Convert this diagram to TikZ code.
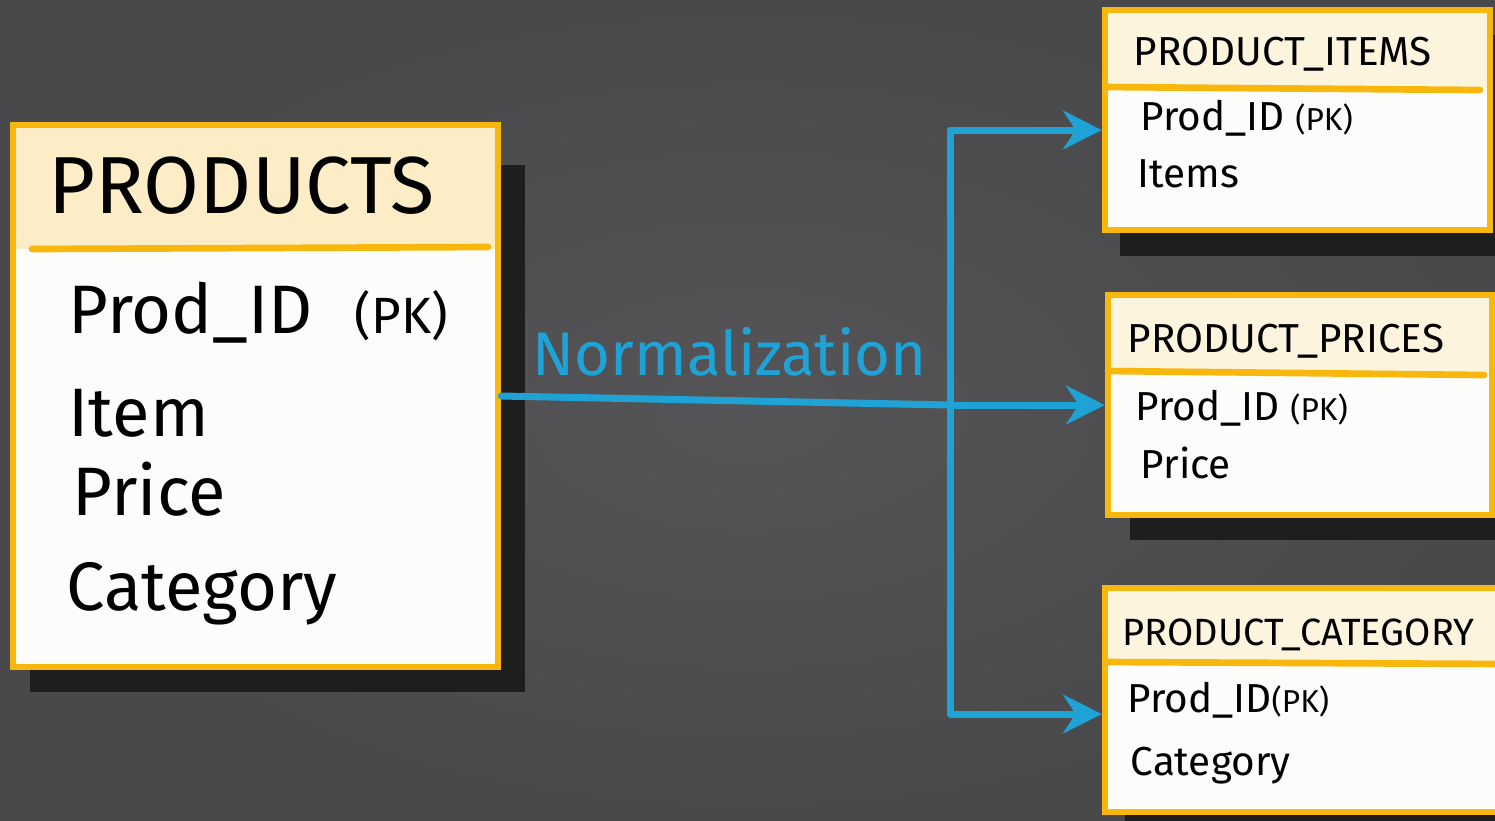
\documentclass[tikz,border=0pt]{standalone}
\usepackage{fontspec}
\setmainfont{Fira Sans}
\usetikzlibrary{arrows.meta}
\definecolor{boardmid}{HTML}{555557}
\definecolor{boardedge}{HTML}{49494C}
\definecolor{marker}{HTML}{F8B70C}
\definecolor{headfill}{HTML}{FCEDC6}
\definecolor{headpale}{HTML}{FDF4DE}
\definecolor{paper}{HTML}{FCFCFA}
\definecolor{chalkblue}{HTML}{1FA3D6}
\definecolor{shadow}{HTML}{1E1E1F}
\begin{document}
\begin{tikzpicture}[x=0.01cm,y=-0.01cm,
	tbl/.style={rectangle,fill=paper,draw=marker,line width=1.8pt,inner sep=0pt},
	bar/.style={marker,line width=1.9pt,line cap=round},
	flow/.style={chalkblue,line width=2pt,line cap=round,line join=round},
	tip/.style={-{Stealth[length=11pt,width=11pt]}},
	txt/.style={anchor=base west,inner sep=0pt},
	bigtitle/.style={txt,font=\fontsize{23}{23}\selectfont},
	bigfield/.style={txt,font=\fontsize{19.5}{20}\selectfont},
	title/.style={txt,font=\fontsize{11.5}{12}\selectfont},
	field/.style={txt,font=\fontsize{11.5}{12}\selectfont}]
	\useasboundingbox (0,0) rectangle (1495,820);
	\clip (0,0) rectangle (1495,820);
	\shade[inner color=boardmid,outer color=boardedge] (0,0) rectangle (1495,820);
	% shadows
	\fill[shadow] (30,165) rectangle (525,692);
	\fill[shadow] (1120,35) rectangle (1510,256);
	\fill[shadow] (1130,320) rectangle (1510,540);
	\fill[shadow] (1125,615) rectangle (1520,840);
	% tables
	\node[tbl,minimum width=4.85cm,minimum height=5.42cm] (prod) at (255.5,396) {};
	\node[tbl,minimum width=3.85cm,minimum height=2.2cm] (items) at (1297.5,120) {};
	\node[tbl,minimum width=3.84cm,minimum height=2.2cm] (prices) at (1300,405) {};
	\node[tbl,minimum width=4.15cm,minimum height=2.24cm] (cats) at (1312.5,700) {};
	\fill[headfill] (16,128) rectangle (495,249);
	\fill[headpale] (1108,13) rectangle (1487,88);
	\fill[headpale] (1111,298) rectangle (1489,372);
	\fill[headpale] (1108,591) rectangle (1520,663);
	\draw[bar] (32,249) -- (488,247);
	\draw[bar] (1105,87) -- (1480,90);
	\draw[bar] (1108,371) -- (1484,375);
	\draw[bar] (1105,662) -- (1510,664);
	% labels
	\node[bigtitle] (prodname) at (48,213) {PRODUCTS};
	\node[bigfield] (prodid) at (68,333) {Prod\_ID\hspace{12pt}{\fontsize{14.5}{14}\selectfont(PK)}};
	\node[bigfield] (proditem) at (68,436) {Item};
	\node[bigfield] (prodprice) at (72,515) {Price};
	\node[bigfield] (prodcat) at (66,610) {Category};
	\node[title] (itemsname) at (1133,65) {PRODUCT\_ITEMS};
	\node[field] (itemsid) at (1140,130) {Prod\_ID {\fontsize{9}{9}\selectfont(PK)}};
	\node[field] (itemsitem) at (1137,187) {Items};
	\node[title] (pricesname) at (1127,352) {PRODUCT\_PRICES};
	\node[field] (pricesid) at (1135,420) {Prod\_ID {\fontsize{9}{9}\selectfont(PK)}};
	\node[field] (pricesprice) at (1140,478) {Price};
	\node[title,font=\fontsize{10.8}{11}\selectfont] (catsname) at (1122,645) {PRODUCT\_CATEGORY};
	\node[field] (catsid) at (1127,712) {Prod\_ID{\fontsize{9}{9}\selectfont(PK)}};
	\node[field] (catscat) at (1130,775) {Category};
	% normalization
	\node[txt,text=chalkblue,font=\fontsize{17.5}{18}\selectfont] (normlabel) at (532,375) {Normalization};
	\coordinate (split) at (950,405);
	\draw[flow] (prod.east) -- (split);
	\draw[flow,tip] (split) |- ([yshift=-0.1cm]items.west);
	\draw[flow,tip] (split) -- (prices.west);
	\draw[flow,tip] (split) |- ([yshift=-0.14cm]cats.west);
\end{tikzpicture}
\end{document}
